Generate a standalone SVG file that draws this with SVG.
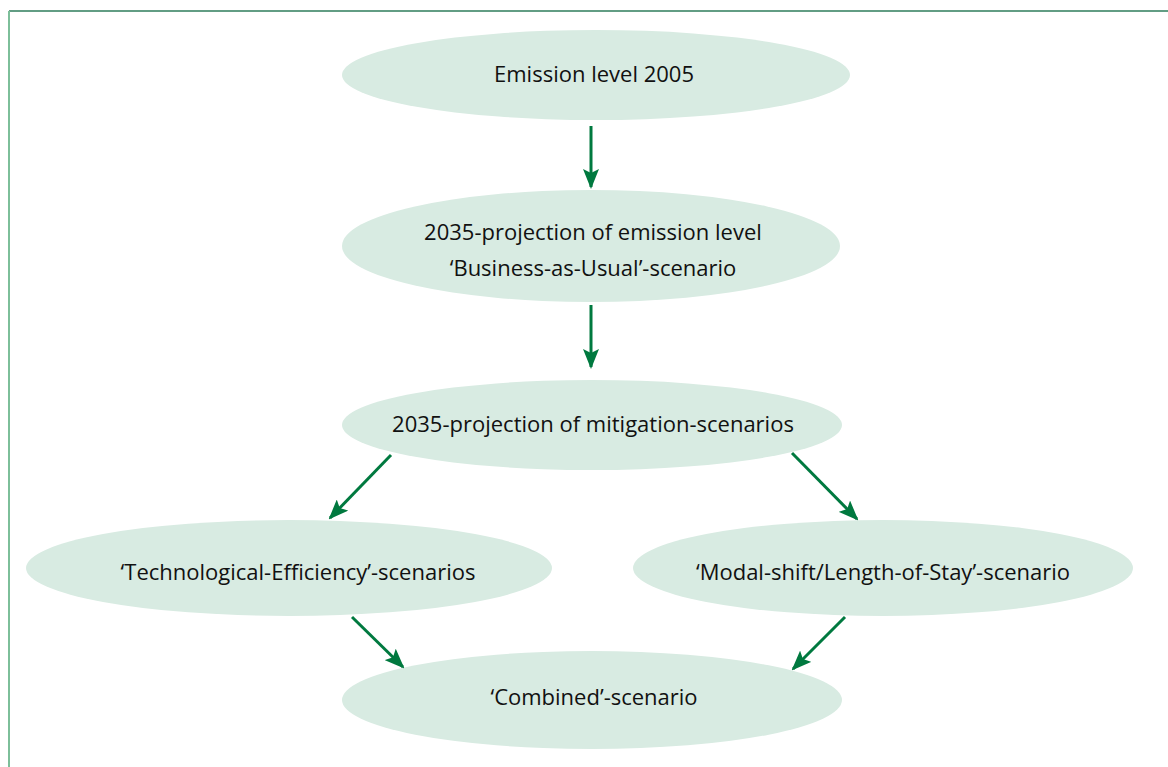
<svg xmlns="http://www.w3.org/2000/svg" width="1168" height="767" viewBox="0 0 1168 767">
<style>
.n{fill:#d8ebe2}
.t{font-family:"Open Sans","Noto Sans",sans-serif;font-size:22px;fill:#111;text-anchor:middle}
.c{stroke:#00793f;stroke-width:3;fill:none;marker-end:url(#ah)}
</style>
<defs>
<marker id="ah" markerUnits="userSpaceOnUse" markerWidth="20" markerHeight="16" refX="18" refY="8" orient="auto">
<path d="M0,0 L20,8 L0,16 L4,8 Z" fill="#00793f"/>
</marker>
</defs>
<rect width="1168" height="767" fill="#fff"/>
<line x1="9" y1="11" x2="1168" y2="11" stroke="#2e7d5b" stroke-width="1.5"/>
<line x1="9" y1="11" x2="9" y2="767" stroke="#7dbf9a" stroke-width="2"/>
<g id="n1"><ellipse class="n" cx="596" cy="75" rx="254" ry="45"/><text class="t" x="594" y="82">Emission level 2005</text></g>
<g id="n2"><ellipse class="n" cx="591" cy="246" rx="249" ry="56"/><text class="t" x="593" y="240">2035-projection of emission level</text><text class="t" x="593" y="276">‘Business-as-Usual’-scenario</text></g>
<g id="n3"><ellipse class="n" cx="592" cy="425" rx="250" ry="45"/><text class="t" x="593" y="432">2035-projection of mitigation-scenarios</text></g>
<g id="n4"><ellipse class="n" cx="289" cy="568" rx="263" ry="48"/><text class="t" x="298" y="580">‘Technological-Efficiency’-scenarios</text></g>
<g id="n5"><ellipse class="n" cx="883" cy="568" rx="250" ry="48"/><text class="t" x="883" y="580">‘Modal-shift/Length-of-Stay’-scenario</text></g>
<g id="n6"><ellipse class="n" cx="592" cy="700" rx="250" ry="49"/><text class="t" x="594" y="705">‘Combined’-scenario</text></g>
<g id="connectors">
<line class="c" x1="591" y1="126" x2="591" y2="187"/>
<line class="c" x1="591" y1="305" x2="591" y2="367"/>
<line class="c" x1="391" y1="455" x2="330" y2="518"/>
<line class="c" x1="792" y1="453" x2="857" y2="519"/>
<line class="c" x1="352" y1="617" x2="403" y2="667"/>
<line class="c" x1="845" y1="617" x2="793" y2="669"/>
</g>
</svg>
